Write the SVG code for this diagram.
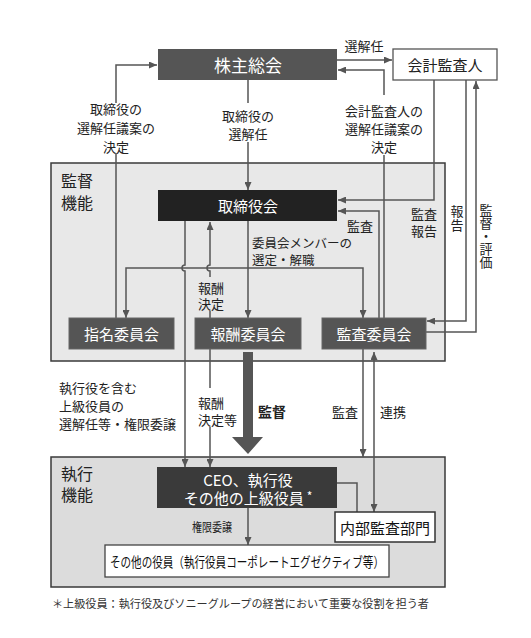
<svg xmlns="http://www.w3.org/2000/svg" width="531" height="638" viewBox="0 0 531 638">
<defs>
<marker id="ah" markerUnits="userSpaceOnUse" markerWidth="8" markerHeight="7" refX="8" refY="3.5" orient="auto">
<path d="M0,0 L8,3.5 L0,7 z" fill="#555"/>
</marker>
<marker id="ahs" markerUnits="userSpaceOnUse" markerWidth="8" markerHeight="7" refX="0" refY="3.5" orient="auto">
<path d="M8,0 L0,3.5 L8,7 z" fill="#555"/>
</marker>
<style>
text{font-family:"Noto Sans CJK JP","Noto Sans",sans-serif;fill:#222;dominant-baseline:central}
.c{text-anchor:middle}
.w{fill:#fff}
.l13{font-size:13px}
.l12{font-size:12.5px}
.v{writing-mode:vertical-rl;text-orientation:upright;font-size:13px}
.area{stroke:#3a3a3a;stroke-width:1.5}
.dk{stroke:#666;stroke-width:1}
.wb{fill:#fff;stroke:#555;stroke-width:1.3}
.cn path{fill:none;stroke:#555;stroke-width:1.5}
.a{marker-end:url(#ah)}
</style>
</defs>
<rect width="531" height="638" fill="#fff"/>

<g id="area-kantoku">
<rect class="area" x="51" y="163" width="394" height="198" fill="#e8e8e8"/>
<text x="61" y="180" style="font-size:16px">監督<tspan x="61" dy="22">機能</tspan></text>
</g>
<g id="area-shikkou">
<rect class="area" x="51" y="457" width="394" height="130" fill="#dcdcdc"/>
<text x="61" y="473" style="font-size:16px">執行<tspan x="61" dy="21">機能</tspan></text>
</g>

<g class="cn" id="connectors">
<path class="a" d="M116,103 L116,65 L157,65"/>
<path d="M116,153 L116,318"/>
<path d="M248,80 L248,103"/>
<path class="a" d="M248,142 L248,190"/>
<path class="a" d="M337,60 L392,60"/>
<path class="a" d="M384,95 L384,70 L338,70"/>
<path d="M384,155 L384,318"/>
<path class="a" d="M434,80 L434,200 L338,200"/>
<path class="a" d="M379,318 L379,211 L338,211"/>
<path class="a" d="M466,80 L466,321 L427,321"/>
<path class="a" d="M426,332 L476,332 L476,81"/>
<path class="a" d="M248,221 L248,318"/>
<path class="a" d="M248,268 L126,268 L126,318"/>
<path class="a" d="M248,268 L363,268 L363,318"/>
<path class="a" d="M185,221 L185,265 A3,3 0 0 0 185,271 L185,467"/>
<path class="a" d="M210,277 L210,271 A3,3 0 0 1 210,265 L210,222"/>
<path d="M210,311 L210,318"/>
<path d="M210,349 L210,388"/>
<path class="a" d="M210,427 L210,467"/>
<path class="a" d="M363,349 L363,457"/>
<path class="a" d="M374,352 L374,512" style="marker-start:url(#ahs)"/>
<path d="M337,483 L357,483 L357,512"/>
<path class="a" d="M248,508 L248,545"/>
<polygon points="243,352 253,352 253,437 263,437 248,454 232,437 243,437" fill="#555"/>
</g>

<g id="labels">
<text class="c l13" x="116" y="108">取締役の<tspan x="116" dy="19">選解任議案の</tspan><tspan x="116" dy="19">決定</tspan></text>
<text class="c l13" x="248" y="115">取締役の<tspan x="248" dy="18">選解任</tspan></text>
<text class="c l13" x="364" y="45">選解任</text>
<text class="c l13" x="384" y="110">会計監査人の<tspan x="384" dy="18">選解任議案の</tspan><tspan x="384" dy="18">決定</tspan></text>
<text class="c l13" x="360" y="225">監査</text>
<text class="c l13" x="424" y="213">監査<tspan x="424" dy="17">報告</tspan></text>
<text class="v" x="457" y="205" letter-spacing="1">報告</text>
<text class="v" x="486" y="203.5">監督・評価</text>
<text class="l12" x="252" y="242">委員会メンバーの<tspan x="252" dy="17">選定・解職</tspan></text>
<text class="l13" x="198" y="287">報酬<tspan x="198" dy="16">決定</tspan></text>
<text class="l13" x="59" y="387">執行役を含む<tspan x="59" dy="18">上級役員の</tspan><tspan x="59" dy="18">選解任等・権限委譲</tspan></text>
<text class="l13" x="198" y="402">報酬<tspan x="198" dy="17">決定等</tspan></text>
<text x="258" y="411" style="font-size:14px;font-weight:bold">監督</text>
<text class="l13" x="332" y="411">監査</text>
<text class="l13" x="380" y="411">連携</text>
<text x="192" y="526" style="font-size:12.5px" textLength="40" lengthAdjust="spacingAndGlyphs">権限委譲</text>
<text x="52" y="603" style="font-size:11.5px;fill:#333" textLength="377" lengthAdjust="spacingAndGlyphs">＊上級役員：執行役及びソニーグループの経営において重要な役割を担う者</text>
</g>

<g id="node-kabunushi">
<rect x="158" y="49" width="179" height="31" fill="#555"/>
<text class="c w" x="248" y="64.5" style="font-size:17px">株主総会</text>
</g>
<g id="node-kaikei">
<rect class="wb" x="393" y="49" width="104" height="31"/>
<text class="c" x="445" y="64.5" style="font-size:15px">会計監査人</text>
</g>
<g id="node-torishimariyakukai">
<rect x="158" y="190" width="179" height="31" fill="#222"/>
<text class="c w" x="248" y="205.5" style="font-size:15px">取締役会</text>
</g>
<g id="node-shimei">
<rect class="dk" x="69" y="318" width="105" height="31" fill="#555"/>
<text class="c w" x="121.5" y="333.5" style="font-size:15px">指名委員会</text>
</g>
<g id="node-houshu">
<rect class="dk" x="195" y="318" width="106" height="31" fill="#555"/>
<text class="c w" x="248" y="333.5" style="font-size:15px">報酬委員会</text>
</g>
<g id="node-kansa">
<rect class="dk" x="322" y="318" width="104" height="31" fill="#555"/>
<text class="c w" x="374" y="333.5" style="font-size:15px">監査委員会</text>
</g>
<g id="node-ceo">
<rect x="157" y="467" width="180" height="41" fill="#3a3a3a"/>
<text class="c w" x="248" y="479" style="font-size:15px">CEO、執行役<tspan x="248" dy="18">その他の上級役員</tspan><tspan dx="3" dy="-2" style="font-size:12px">*</tspan></text>
</g>
<g id="node-naibu">
<rect x="335" y="512" width="100" height="30" fill="#fff" stroke="#333" stroke-width="1.5"/>
<text class="c" x="385" y="527" style="font-size:15px;fill:#111">内部監査部門</text>
</g>
<g id="node-sonota">
<rect x="105" y="545" width="284" height="32" fill="#fff" stroke="#444" stroke-width="1.3"/>
<text x="110" y="561" style="font-size:14px;fill:#111" textLength="274" lengthAdjust="spacingAndGlyphs">その他の役員（執行役員コーポレートエグゼクティブ等）</text>
</g>
</svg>
